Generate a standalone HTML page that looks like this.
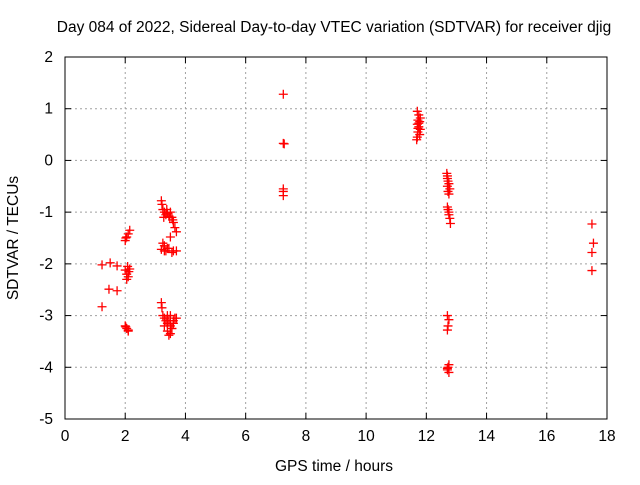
<!DOCTYPE html>
<html><head><meta charset="utf-8"><style>
body{margin:0;background:#fff}
svg text{font-family:"Liberation Sans",sans-serif;font-size:15.5px;fill:#000}
</style></head><body>
<svg id="c" width="640" height="480" xmlns="http://www.w3.org/2000/svg">
<rect width="640" height="480" fill="#fff"/>
<text x="334" y="32" text-anchor="middle">Day 084 of 2022, Sidereal Day-to-day VTEC variation (SDTVAR) for receiver djig</text>
<g id="grid"></g><g id="ticks"></g><g id="marks"></g>
<rect x="65" y="57" width="542" height="362" fill="none" stroke="#000" stroke-width="1"/>
<text x="334" y="471" text-anchor="middle">GPS time / hours</text>
<text x="18" y="238" text-anchor="middle" transform="rotate(-90 18 238)">SDTVAR / TECUs</text>
</svg>
<script>
const xTicks=[0,2,4,6,8,10,12,14,16,18];
const yTicks=[2,1,0,-1,-2,-3,-4,-5];
const hours=[1.23,1.5,1.73,1.46,1.73,1.23,
2.0,2.05,2.1,2.15,2.02,2.08,2.0,2.05,2.1,2.12,2.05,2.15,2.0,2.05,2.1,2.02,2.1,
3.2,3.22,3.25,3.3,3.35,3.4,3.45,3.5,3.55,3.6,3.65,3.7,3.28,3.38,3.48,3.58,3.25,3.3,3.4,3.5,3.6,3.7,3.35,3.45,3.55,3.2,3.3,
3.2,3.22,3.25,3.3,3.35,3.4,3.45,3.5,3.55,3.6,3.65,3.7,3.3,3.4,3.5,3.45,3.55,3.6,3.5,3.4,
7.25,7.25,7.28,7.25,7.25,7.25,
11.7,11.75,11.8,11.72,11.78,11.7,11.75,11.8,11.72,11.78,11.7,11.75,11.68,11.72,
12.68,12.7,12.72,12.75,12.7,12.78,12.72,12.75,12.7,12.72,12.75,12.78,12.8,12.7,12.75,
12.7,12.75,12.72,12.7,12.75,12.72,12.7,12.75,12.7,
17.5,17.55,17.5,17.5];
const values=[-2.02,-1.98,-2.04,-2.49,-2.52,-2.83,
-1.55,-1.48,-1.42,-1.35,-1.5,-2.05,-2.12,-2.2,-2.25,-2.15,-2.3,-2.1,-3.2,-3.25,-3.3,-3.22,-3.28,
-0.78,-0.85,-0.95,-1.0,-1.05,-1.02,-1.08,-1.0,-1.1,-1.2,-1.3,-1.38,-1.1,-0.95,-1.1,-1.15,-1.6,-1.65,-1.7,-1.48,-1.75,-1.75,-1.75,-1.7,-1.78,-1.72,-1.75,
-2.75,-2.85,-3.0,-3.05,-3.1,-3.15,-3.1,-3.2,-3.25,-3.15,-3.05,-3.05,-3.2,-3.3,-3.35,-3.38,-3.25,-3.1,-3.0,-3.0,
1.28,0.33,0.32,-0.55,-0.6,-0.68,
0.95,0.88,0.82,0.78,0.75,0.7,0.65,0.6,0.55,0.5,0.45,0.72,0.4,0.62,
-0.25,-0.3,-0.4,-0.45,-0.5,-0.55,-0.6,-0.65,-0.9,-0.95,-1.05,-1.12,-1.22,-0.35,-1.0,
-3.0,-3.08,-3.2,-3.28,-3.95,-4.0,-4.05,-4.1,-4.02,
-1.23,-1.6,-1.78,-2.13];
const X0=65,X1=607,Y0=57,Y1=419;
const xs=h=>X0+(h-0)/(18-0)*(X1-X0);
const ys=v=>Y0+(2-v)/(2-(-5))*(Y1-Y0);
const NS="http://www.w3.org/2000/svg";
const G=document.getElementById('grid'),T=document.getElementById('ticks'),M=document.getElementById('marks');
function mk(tag,at,p){const e=document.createElementNS(NS,tag);for(const k in at)e.setAttribute(k,at[k]);p.appendChild(e);return e;}
xTicks.forEach(t=>{const x=xs(t);
 if(t>0&&t<18){const l=mk('line',{x1:x,x2:x,y1:Y0,y2:Y1,stroke:'#a0a0a0','stroke-dasharray':'2,3'},G);
 
 }
 mk('line',{x1:x,x2:x,y1:Y1,y2:Y1-6,stroke:'#000'},T);mk('line',{x1:x,x2:x,y1:Y0,y2:Y0+6,stroke:'#000'},T);
 const tx=mk('text',{x:x,y:Y1+22,'text-anchor':'middle'},T);tx.textContent=t;
 
 });
yTicks.forEach(t=>{const y=ys(t);
 if(t<2&&t>-5){const l=mk('line',{x1:X0,x2:X1,y1:y,y2:y,stroke:'#a0a0a0','stroke-dasharray':'2,3'},G);
 
 }
 mk('line',{x1:X0,x2:X0+6,y1:y,y2:y,stroke:'#000'},T);mk('line',{x1:X1,x2:X1-6,y1:y,y2:y,stroke:'#000'},T);
 const tx=mk('text',{x:X0-12,y:y+5,'text-anchor':'end'},T);tx.textContent=t;
 
 });
hours.forEach((h,i)=>{const x=xs(h),y=ys(values[i]);
 const p=mk('path',{d:`M${x-4.5},${y}H${x+4.5}M${x},${y-4.5}V${y+4.5}`,stroke:'#f00','stroke-width':1.3},M);
 
 });
</script>
</body></html>
